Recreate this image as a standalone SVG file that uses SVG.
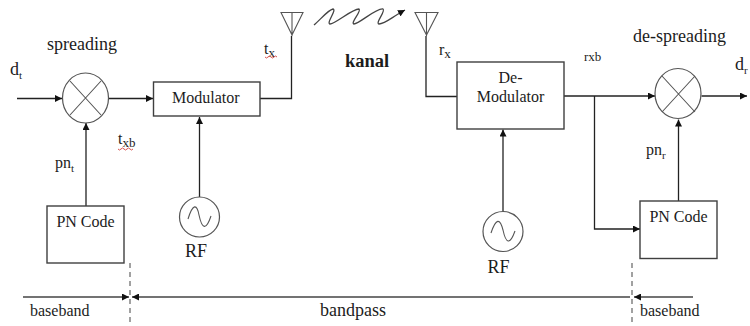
<svg xmlns="http://www.w3.org/2000/svg" width="750" height="326" viewBox="0 0 750 326">
<style>
text{font-family:"Liberation Serif","Times New Roman",serif;fill:#1c1c1c;font-size:16px}
.s{font-size:11px}
.b{fill:#fff;stroke:#3f3f3f;stroke-width:1.4}
.m{fill:#fff;stroke:#555;stroke-width:1.2}
.l{fill:none;stroke:#222;stroke-width:1.3}
.g{fill:none;stroke:#555;stroke-width:1.1}
.h{fill:none;stroke:#444;stroke-width:1.3}
.w{fill:none;stroke:#d9534f;stroke-width:1}
</style>
<defs>
<marker id="a" viewBox="0 0 8 8" refX="8" refY="4" markerWidth="7" markerHeight="7" markerUnits="userSpaceOnUse" orient="auto"><path d="M0 0L8 4L0 8z" fill="#111"/></marker>
</defs>
<rect width="750" height="326" fill="#fff"/>
<g id="connectors">
<path class="l" d="M17 98.500H62" marker-end="url(#a)"/>
<path class="l" d="M108.500 98.500H153" marker-end="url(#a)"/>
<path class="l" d="M86 206V123" marker-end="url(#a)"/>
<path class="l" d="M260 98.500H291.500V36"/>
<path class="l" d="M199.500 197V117" marker-end="url(#a)"/>
<path class="l" d="M426 36V96.500H457"/>
<path class="l" d="M503 211V129.500" marker-end="url(#a)"/>
<path class="l" d="M564 96H655" marker-end="url(#a)"/>
<path class="l" d="M594.500 96V229H640" marker-end="url(#a)"/>
<path class="l" d="M678.500 201V119.500" marker-end="url(#a)"/>
<path class="l" d="M701.500 96H747" marker-end="url(#a)"/>
<path class="h" d="M314 25C320 20 328 10 333 9C337 10 326 23 330 24C335 24 352 9 359 9C362 11 350 23 354 24C359 24 376 8 383 9C386 11 375 23 379 24C385 24 392 17 405 10" marker-end="url(#a)"/>
<path class="h" d="M23 297H129" marker-end="url(#a)"/>
<path class="h" d="M630 297H132" marker-end="url(#a)"/>
<path class="h" d="M693 297H634" marker-end="url(#a)"/>
<path class="g" stroke-dasharray="5 4" d="M130 263V326"/>
<path class="g" stroke-dasharray="5 4" d="M632 263V326"/>
</g>
<g id="spreading-mixer">
<ellipse class="m" cx="85.500" cy="98" rx="23" ry="25"/>
<path class="g" d="M70 81L101 115M101 81L70 115"/>
</g>
<g id="despreading-mixer">
<ellipse class="m" cx="678" cy="93.500" rx="23" ry="25"/>
<path class="g" d="M662 76L695 112M695 76L662 112"/>
</g>
<g id="modulator"><rect class="b" x="153.500" y="82" width="106.500" height="34"/><text x="172" y="103">Modulator</text></g>
<g id="demodulator"><rect class="b" x="457" y="62" width="107" height="67"/><text x="510.500" y="83" text-anchor="middle">De-</text><text x="510.500" y="102" text-anchor="middle">Modulator</text></g>
<g id="pn-code-tx"><rect class="b" x="47" y="206" width="77" height="57"/><text x="85.500" y="227" text-anchor="middle">PN Code</text></g>
<g id="pn-code-rx"><rect class="b" x="640" y="201" width="77" height="57.500"/><text x="678.500" y="222" text-anchor="middle">PN Code</text></g>
<g id="rf-tx"><circle class="m" cx="199.500" cy="217" r="20"/><path class="g" d="M188 219C193 203 197 204 199 215C202 229 206 231 211 216"/><text x="196" y="257" text-anchor="middle" style="font-size:18px">RF</text></g>
<g id="rf-rx"><circle class="m" cx="503" cy="231.500" r="20"/><path class="g" d="M491 233C496 218 500 218 503 230C506 244 510 245 515 231"/><text x="498.500" y="273" text-anchor="middle" style="font-size:18px">RF</text></g>
<g id="antenna-tx"><path class="g" d="M281 12.500H303L292 35ZM292 12.500V36"/></g>
<g id="antenna-rx"><path class="g" d="M415 12.500H438L426.500 35ZM426.500 12.500V36"/></g>
<g id="labels">
<text x="47" y="50" style="font-size:18px">spreading</text>
<text x="633" y="42" style="font-size:18px">de-spreading</text>
<text x="10" y="75" style="font-size:18px">d<tspan dy="4" class="s">t</tspan></text>
<text x="735" y="70" style="font-size:18px">d<tspan dy="4" class="s">r</tspan></text>
<text x="55" y="168">pn<tspan dy="4" class="s">t</tspan></text>
<text x="646" y="155">pn<tspan dy="4" class="s">r</tspan></text>
<text x="118" y="144">t<tspan dy="3" style="font-size:13px">xb</tspan></text>
<text x="264" y="54">t<tspan dy="3" style="font-size:13px">x</tspan></text>
<text x="439" y="55">r<tspan dy="3" style="font-size:13px">x</tspan></text>
<text x="584" y="61" style="font-size:13px">rxb</text>
<text x="345" y="67" style="font-weight:bold;font-size:18.500px">kanal</text>
<text x="30" y="316">baseband</text>
<text x="320" y="316" style="font-size:18px">bandpass</text>
<text x="640" y="316">baseband</text>
<path class="w" d="M265 57q1.500 2 3 0t3 0t3 0t3 0M118 149q1.500 2 3 0t3 0t3 0t3 0t3 0"/>
</g>
</svg>
